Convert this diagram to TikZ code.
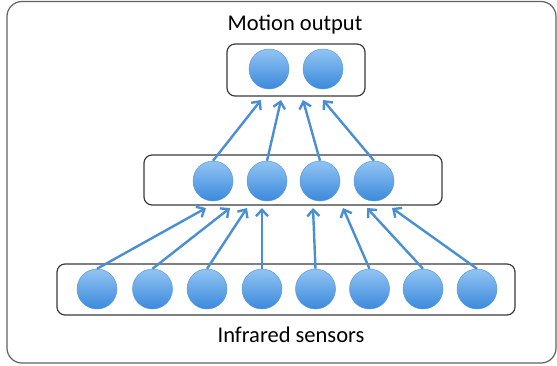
\documentclass[tikz,border=0pt]{standalone}
\usepackage{fontspec}
\setmainfont{Carlito}
\usetikzlibrary{arrows.meta}
\definecolor{unitblue}{HTML}{4A8FD3}
\definecolor{unittop}{HTML}{92C4F3}
\definecolor{unitbot}{HTML}{3B89DC}
\definecolor{unitrim}{HTML}{5C9BD8}
\definecolor{framegray}{HTML}{3A3A3A}
\begin{document}
\begin{tikzpicture}[x=1pt,y=-1pt,
  unit/.style={circle,minimum size=40pt,inner sep=0pt,top color=unittop,bottom color=unitbot,draw=unitrim,line width=0.5pt},
  layerbox/.style={draw=framegray,line width=1.2pt,rounded corners=8pt,inner sep=0pt},
  link/.style={draw=unitblue,line width=2.4pt,-{Straight Barb[length=6.5pt,width=12pt,line width=2.4pt]}},
  caption/.style={font=\fontsize{22.5}{26}\selectfont,text=black}]
\useasboundingbox (0,0) rectangle (557,365);
% outer frame
\draw[draw=framegray!80,line width=1.2pt,rounded corners=15pt] (7,1.5) rectangle (556,363);

% layer frames
\node[layerbox,minimum width=138pt,minimum height=52pt] (topbox) at (296,70) {};
\node[layerbox,minimum width=298pt,minimum height=50pt] (midbox) at (293,180) {};
\node[layerbox,minimum width=458pt,minimum height=51pt] (botbox) at (286,289.5) {};

% output units
\node[unit] (o1) at (269,69) {};
\node[unit] (o2) at (323,69) {};
% hidden units
\node[unit] (h1) at (213,181) {};
\node[unit] (h2) at (267,181) {};
\node[unit] (h3) at (320,181) {};
\node[unit] (h4) at (374,181) {};
% sensor units
\foreach \i/\x in {1/97,2/152.5,3/207,4/262,5/315.5,6/369.5,7/423,8/477}
  \node[unit] (s\i) at (\x,289) {};

% arrow tips just below the layer frames
\foreach \i/\x in {1/206,2/230,3/247,4/262,5/313,6/343,7/367,8/392}
  \coordinate (hin\i) at (\x,208);
\foreach \i/\x in {1/261,2/281,3/303,4/323}
  \coordinate (oin\i) at (\x,100);

\foreach \i in {1,...,8}
  \draw[link] (s\i.north) -- (hin\i);
\foreach \i in {1,...,4}
  \draw[link] (h\i.north) -- (oin\i);

% captions
\node[caption] (outlabel) at (295,25) {Motion output};
\node[caption] (inlabel) at (291,335) {Infrared sensors};
\end{tikzpicture}
\end{document}
